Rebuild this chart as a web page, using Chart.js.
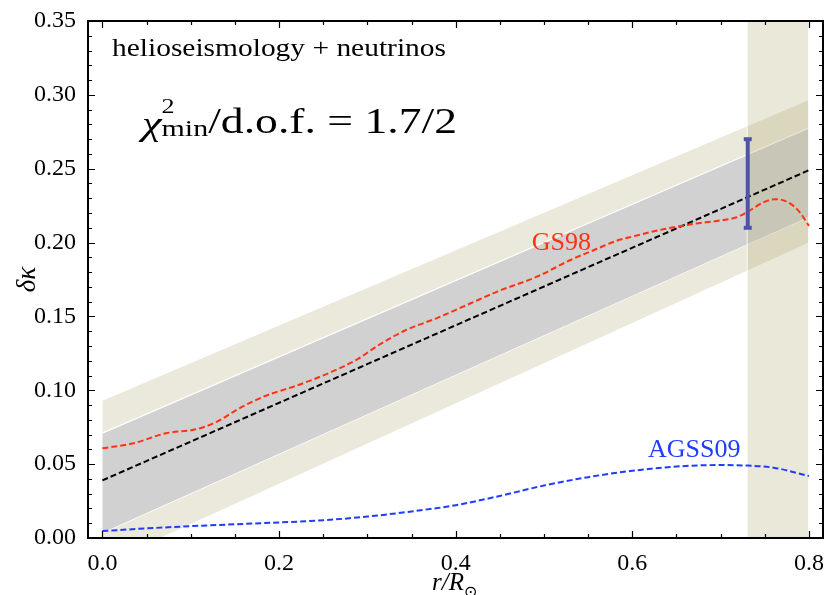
<!DOCTYPE html>
<html>
<head>
<meta charset="utf-8">
<script src="https://cdn.jsdelivr.net/npm/chart.js@4.4.1/dist/chart.umd.min.js"></script>
<style>
  html, body { margin: 0; padding: 0; background: #fff; }
  #wrap { width: 831px; height: 595px; }
</style>
</head>
<body>
<div id="wrap"><canvas id="chart" width="831" height="595"></canvas></div>
<script>
// band edges at r/R = 0 and 0.8
const bandX = [0, 0.8];
const outerUpper = [0.093, 0.2965];
const outerLower = [-0.0177, 0.2];
const innerUpper = [0.071, 0.2776];
const innerLower = [0.0035, 0.2175];
const fitLine = [0.039, 0.249];

// convective zone shading and the measured point
const zoneX = [0.73, 0.8];
const errX = 0.7307;
const errY = [0.21, 0.27];

const gs98X = [0, 0.035, 0.072, 0.106, 0.13, 0.155, 0.185, 0.222, 0.26, 0.29, 0.312, 0.342, 0.38, 0.417, 0.447,
  0.492, 0.53, 0.56, 0.582, 0.597, 0.635, 0.669, 0.699, 0.718, 0.731, 0.748, 0.763, 0.778, 0.789, 0.8];
const gs98Y = [0.0607, 0.0641, 0.0709, 0.0736, 0.0788, 0.0878, 0.0963, 0.1036, 0.1126, 0.1215, 0.1303, 0.1403, 0.1492, 0.1589, 0.1668,
  0.1769, 0.1882, 0.1958, 0.2012, 0.2036, 0.209, 0.2126, 0.2149, 0.2171, 0.221, 0.2271, 0.2294, 0.2267, 0.221, 0.2113];

const agssX = [0, 0.05, 0.1, 0.15, 0.2, 0.25, 0.3, 0.35, 0.4, 0.45, 0.5, 0.55, 0.6, 0.65, 0.7, 0.73, 0.76, 0.8];
const agssY = [0.0047, 0.0065, 0.008, 0.0093, 0.0105, 0.012, 0.0145, 0.018, 0.0222, 0.0285, 0.0355, 0.0412, 0.0455, 0.0484, 0.0494, 0.049, 0.0476, 0.042];

const xTicks = [0, 0.2, 0.4, 0.6, 0.8];
const yTicks = [0, 0.05, 0.1, 0.15, 0.2, 0.25, 0.3, 0.35];

const SERIF = "'Liberation Serif', 'Times New Roman', serif";
Chart.defaults.font.family = SERIF;

function pts(xs, ys) {
  return xs.map((x, i) => ({ x: x, y: ys[i] }));
}

function drawRuns(ctx, runs, x, y, width) {
  // runs drawn left to right, squeezed/stretched to the given width
  let natural = 0;
  runs.forEach((r) => {
    ctx.font = r.font;
    r.w = ctx.measureText(r.t).width;
    if (!r.stack) natural += r.w;
  });
  const sx = width ? width / natural : 1;
  ctx.save();
  ctx.translate(x, y);
  ctx.scale(sx, 1);
  let cx = 0;
  let lastX = 0;
  runs.forEach((r) => {
    ctx.font = r.font;
    ctx.fillStyle = r.color || "#000";
    if (r.stack) {
      ctx.fillText(r.t, lastX, r.dy || 0);
    } else {
      ctx.fillText(r.t, cx, r.dy || 0);
      lastX = cx;
      cx += r.w;
    }
  });
  ctx.restore();
}

const framePlugin = {
  id: "frame",
  afterDatasetsDraw(chart) {
    const { ctx, chartArea: a, scales } = chart;
    const xs = scales.x;
    const ys = scales.y;
    ctx.save();
    ctx.strokeStyle = "#000";
    ctx.lineWidth = 1.2;
    ctx.beginPath();
    for (let v = 0; v <= 0.8001; v += 0.05) {
      const px = Math.round(xs.getPixelForValue(v)) + 0.5;
      const len = xTicks.some((t) => Math.abs(t - v) < 1e-6) ? 7 : 4;
      ctx.moveTo(px, a.bottom); ctx.lineTo(px, a.bottom - len);
      ctx.moveTo(px, a.top); ctx.lineTo(px, a.top + len);
    }
    for (let v = 0; v <= 0.3501; v += 0.01) {
      const py = Math.round(ys.getPixelForValue(v)) + 0.5;
      const len = yTicks.some((t) => Math.abs(t - v) < 1e-6) ? 7 : 4;
      ctx.moveTo(a.left, py); ctx.lineTo(a.left + len, py);
      ctx.moveTo(a.right, py); ctx.lineTo(a.right - len, py);
    }
    ctx.stroke();
    ctx.lineWidth = 2;
    ctx.strokeRect(a.left, a.top, a.right - a.left, a.bottom - a.top);

    // curve labels
    ctx.textAlign = "center";
    ctx.textBaseline = "alphabetic";
    ctx.font = "26px " + SERIF;
    ctx.fillStyle = "#ff3314";
    ctx.fillText("GS98", xs.getPixelForValue(0.5197), ys.getPixelForValue(0.195));
    ctx.fillStyle = "#1f3cff";
    ctx.fillText("AGSS09", xs.getPixelForValue(0.67), ys.getPixelForValue(0.0548));

    // panel texts
    ctx.textAlign = "left";
    drawRuns(ctx, [{ t: "helioseismology + neutrinos", font: "26px " + SERIF }], a.left + 24, a.top + 35, 334);
    drawRuns(ctx, [
      { t: "\u03c7", font: "italic 34px " + SERIF, dy: 2 },
      { t: "min", font: "23px " + SERIF, dy: 3 },
      { t: "2", font: "20px " + SERIF, dy: -20, stack: true },
      { t: "/d.o.f. = 1.7/2", font: "35px " + SERIF },
    ], a.left + 54, a.top + 112, 315);

    // axis titles
    ctx.save();
    ctx.translate(28, (a.top + a.bottom) / 2);
    ctx.rotate(-Math.PI / 2);
    ctx.textAlign = "center";
    ctx.textBaseline = "middle";
    ctx.fillStyle = "#000";
    ctx.font = "italic 27px " + SERIF;
    ctx.fillText("\u03b4\u03ba", 0, 0);
    ctx.restore();

    drawRuns(ctx, [
      { t: "r/R", font: "italic 25px " + SERIF },
      { t: "\u2299", font: "16px " + SERIF, dy: 7 },
    ], 432, 590, 0);
    ctx.restore();
  },
};

new Chart(document.getElementById("chart"), {
  type: "line",
  data: {
    datasets: [
      {
        data: pts(bandX, outerUpper), fill: 1, backgroundColor: "#ebe9dc",
        borderColor: "rgba(0,0,0,0)", borderWidth: 1, order: 10,
      },
      { data: pts(bandX, outerLower), fill: false, borderColor: "rgba(0,0,0,0)", borderWidth: 1, order: 10 },
      {
        data: pts(bandX, innerUpper), fill: 3, backgroundColor: "#d1d1d1",
        borderColor: "#ffffff", borderWidth: 1.2, order: 9,
      },
      { data: pts(bandX, innerLower), fill: false, borderColor: "#ffffff", borderWidth: 1.2, order: 9 },
      {
        data: [{ x: zoneX[0], y: 0.35 }, { x: zoneX[1], y: 0.35 }], fill: "start",
        backgroundColor: "rgba(175,165,110,0.26)", borderColor: "rgba(0,0,0,0)", borderWidth: 1, order: 8,
      },
      {
        data: [{ x: zoneX[0], y: 0 }, { x: zoneX[0], y: 0.35 }, { x: 0.765, y: null },
          { x: zoneX[1], y: 0.35 }, { x: zoneX[1], y: 0 }],
        fill: false, borderColor: "rgba(255,255,255,0.85)", borderWidth: 1, spanGaps: false, order: 7,
      },
      {
        data: pts(bandX, fitLine), fill: false, borderColor: "#000", borderWidth: 2,
        borderDash: [6, 3], order: 5,
      },
      {
        data: pts(gs98X, gs98Y), fill: false, borderColor: "#ff3314", borderWidth: 2,
        borderDash: [6, 3], cubicInterpolationMode: "monotone", order: 4,
      },
      {
        data: pts(agssX, agssY), fill: false, borderColor: "#1f3cff", borderWidth: 2,
        borderDash: [6, 3], cubicInterpolationMode: "monotone", order: 3,
      },
      {
        data: [{ x: errX, y: errY[0] }, { x: errX, y: errY[1] }], fill: false,
        borderColor: "#4f53a8", borderWidth: 4, pointStyle: "line", pointRadius: 4,
        pointBorderWidth: 4, pointBorderColor: "#4f53a8", order: 1,
      },
    ],
  },
  options: {
    responsive: false,
    animation: false,
    events: [],
    elements: { point: { radius: 0, hoverRadius: 0 }, line: { tension: 0 } },
    layout: { padding: { top: 21, right: 4, left: 0, bottom: 0 } },
    plugins: { legend: { display: false }, tooltip: { enabled: false } },
    scales: {
      x: {
        type: "linear",
        min: -0.0163,
        max: 0.8159,
        grid: { display: false },
        border: { display: false },
        afterBuildTicks: (scale) => { scale.ticks = xTicks.map((v) => ({ value: v })); },
        afterFit: (scale) => { scale.height = 57; },
        ticks: {
          font: { family: SERIF, size: 24 }, color: "#000", padding: 3, maxRotation: 0,
          callback: (v) => Number(v).toFixed(1),
        },
      },
      y: {
        min: 0,
        max: 0.35,
        grid: { display: false },
        border: { display: false },
        afterBuildTicks: (scale) => { scale.ticks = yTicks.map((v) => ({ value: v })); },
        afterFit: (scale) => { scale.width = 88; },
        ticks: {
          font: { family: SERIF, size: 24 }, color: "#000", padding: 4,
          callback: (v) => Number(v).toFixed(2),
        },
      },
    },
  },
  plugins: [framePlugin],
});
</script>
</body>
</html>
